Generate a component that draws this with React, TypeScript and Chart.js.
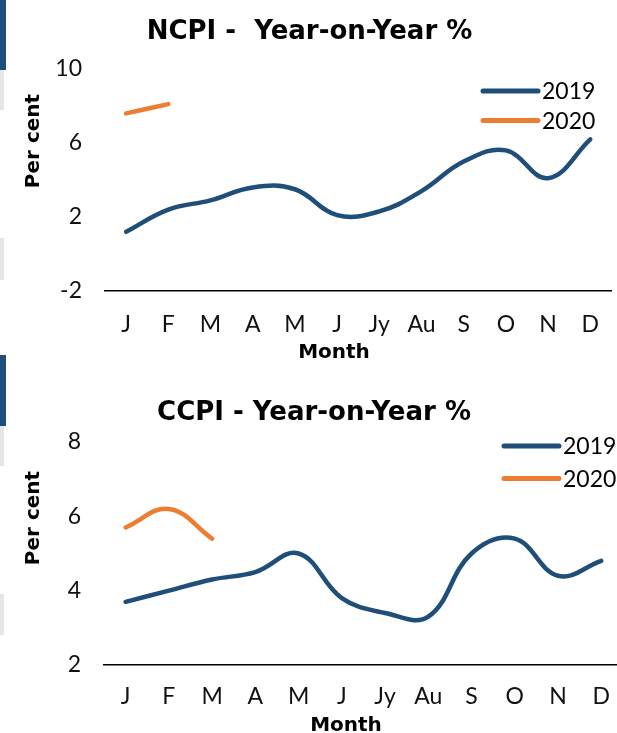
import React, { useEffect, useRef } from "react";
import { Chart, registerables } from "chart.js";

Chart.register(...registerables);

// ---------- data ----------
const months = ["J", "F", "M", "A", "M", "J", "Jy", "Au", "S", "O", "N", "D"];
const seriesNames = ["2019", "2020"];

const ncpi2019 = [1.2, 2.4, 2.9, 3.6, 3.5, 2.1, 2.3, 3.4, 5.0, 5.6, 4.1, 6.2];
const ncpi2020 = [7.6, 8.1];
const ncpiTicks = [-2, 2, 6, 10];

const ccpi2019 = [3.7, 4.0, 4.3, 4.5, 5.0, 3.8, 3.4, 3.3, 5.0, 5.4, 4.4, 4.8];
const ccpi2020 = [5.7, 6.2, 5.4];
const ccpiTicks = [2, 4, 6, 8];

const ncpiTitle = "NCPI -  Year-on-Year %";
const ccpiTitle = "CCPI - Year-on-Year %";
const yAxisTitle = "Per cent";
const xAxisTitle = "Month";

const BLUE = "#1f4e79";
const ORANGE = "#ed7d31";
const TICK_FONT = "Lato";
const BOLD_FONT = "'DejaVu Sans'";

// ---------- plugin for in-plot legend & offset axis titles ----------
const extrasPlugin = {
  id: "extras",
  afterDraw(chart: any, _args: any, opts: any) {
    const ctx = chart.ctx;
    ctx.save();
    chart.data.datasets.forEach((ds: any, i: number) => {
      const y = opts.legendY + i * opts.legendGap;
      ctx.strokeStyle = ds.borderColor;
      ctx.lineWidth = 5;
      ctx.lineCap = "round";
      ctx.beginPath();
      ctx.moveTo(opts.legendX, y);
      ctx.lineTo(opts.legendX + opts.legendLen, y);
      ctx.stroke();
      ctx.fillStyle = "#000";
      ctx.font = `23px ${TICK_FONT}`;
      ctx.textBaseline = "middle";
      ctx.textAlign = "left";
      ctx.fillText(ds.label, opts.legendX + opts.legendLen + 4, y + 1);
    });
    ctx.fillStyle = "#000";
    ctx.font = `bold 20px ${BOLD_FONT}`;
    ctx.textAlign = "center";
    ctx.textBaseline = "middle";
    ctx.fillText(opts.xTitle, opts.xTitleX, opts.xTitleY);
    ctx.translate(opts.yTitleX, opts.yTitleY);
    ctx.rotate(-Math.PI / 2);
    ctx.fillText(opts.yTitle, 0, 0);
    ctx.restore();
  },
};

type Cfg = {
  title: string;
  s2019: number[];
  s2020: number[];
  ticks: number[];
  width: number;
  height: number;
  yWidth: number;
  xHeight: number;
  titlePad: { top: number; bottom: number };
  tickPadX: number;
  extras: any;
};

function LineChart({ cfg }: { cfg: Cfg }) {
  const ref = useRef<HTMLCanvasElement | null>(null);
  useEffect(() => {
    if (!ref.current) return;
    const chart = new Chart(ref.current, {
      type: "line",
      data: {
        labels: months,
        datasets: [
          {
            label: seriesNames[0],
            data: cfg.s2019,
            borderColor: BLUE,
            backgroundColor: BLUE,
            borderWidth: 4.5,
            borderCapStyle: "round",
            borderJoinStyle: "round",
            pointRadius: 0,
            tension: 0.4,
            fill: false,
          },
          {
            label: seriesNames[1],
            data: cfg.s2020,
            borderColor: ORANGE,
            backgroundColor: ORANGE,
            borderWidth: 4.5,
            borderCapStyle: "round",
            borderJoinStyle: "round",
            pointRadius: 0,
            tension: 0.4,
            fill: false,
          },
        ],
      },
      options: {
        responsive: false,
        animation: false,
        layout: { padding: 0 },
        plugins: {
          legend: { display: false },
          tooltip: { enabled: false },
          title: {
            display: true,
            text: cfg.title,
            color: "#000",
            font: { family: BOLD_FONT, size: 26, weight: "bold" },
            padding: cfg.titlePad,
          },
          extras: cfg.extras,
        } as any,
        scales: {
          x: {
            type: "category",
            offset: true,
            grid: { display: false, drawTicks: false },
            border: { display: true, color: "#000", width: 1.5 },
            ticks: {
              color: "#111",
              font: { family: TICK_FONT, size: 23 },
              padding: cfg.tickPadX,
              maxRotation: 0,
              autoSkip: false,
            },
            afterFit: (s: any) => {
              s.height = cfg.xHeight;
            },
          },
          y: {
            min: cfg.ticks[0],
            max: cfg.ticks[cfg.ticks.length - 1],
            grid: { display: false, drawTicks: false },
            border: { display: false },
            ticks: {
              stepSize: cfg.ticks[1] - cfg.ticks[0],
              color: "#111",
              font: { family: TICK_FONT, size: 23 },
              padding: 23,
            },
            afterFit: (s: any) => {
              s.width = cfg.yWidth;
            },
          },
        },
      },
      plugins: [extrasPlugin],
    } as any);
    return () => chart.destroy();
  }, [cfg]);
  return (
    <canvas
      ref={ref}
      width={cfg.width}
      height={cfg.height}
      style={{ width: cfg.width, height: cfg.height, display: "block" }}
    />
  );
}

const topCfg: Cfg = {
  title: ncpiTitle,
  s2019: ncpi2019,
  s2020: ncpi2020,
  ticks: ncpiTicks,
  width: 619,
  height: 370,
  yWidth: 105,
  xHeight: 79,
  titlePad: { top: 17, bottom: 20.8 },
  tickPadX: 20,
  extras: {
    legendX: 483,
    legendLen: 55,
    legendY: 91,
    legendGap: 29.5,
    xTitle: xAxisTitle,
    xTitleX: 334,
    xTitleY: 353,
    yTitle: yAxisTitle,
    yTitleX: 34,
    yTitleY: 141,
  },
};

const bottomCfg: Cfg = {
  title: ccpiTitle,
  s2019: ccpi2019,
  s2020: ccpi2020,
  ticks: ccpiTicks,
  width: 628,
  height: 363,
  yWidth: 104,
  xHeight: 68,
  titlePad: { top: 28, bottom: 12.8 },
  tickPadX: 18,
  extras: {
    legendX: 504,
    legendLen: 55,
    legendY: 76,
    legendGap: 32.5,
    xTitle: xAxisTitle,
    xTitleX: 346,
    xTitleY: 356,
    yTitle: yAxisTitle,
    yTitleX: 34,
    yTitleY: 148,
  },
};

export default function App() {
  const bar = (top: number, h: number, color: string, w: number) => (
    <div
      style={{
        position: "absolute",
        left: 0,
        top,
        width: w,
        height: h,
        background: color,
      }}
    />
  );
  return (
    <div
      style={{
        position: "fixed",
        left: 0,
        top: 0,
        width: 617,
        height: 733,
        overflow: "hidden",
        background: "#fff",
      }}
    >
      <div style={{ position: "absolute", left: 0, top: 0 }}>
        <LineChart cfg={topCfg} />
      </div>
      <div style={{ position: "absolute", left: 0, top: 370 }}>
        <LineChart cfg={bottomCfg} />
      </div>
      {bar(0, 70, BLUE, 6)}
      {bar(70, 40, "#e6e6e6", 4)}
      {bar(238, 42, "#e6e6e6", 4)}
      {bar(355, 71, BLUE, 6)}
      {bar(426, 40, "#e6e6e6", 4)}
      {bar(594, 41, "#e6e6e6", 4)}
    </div>
  );
}
